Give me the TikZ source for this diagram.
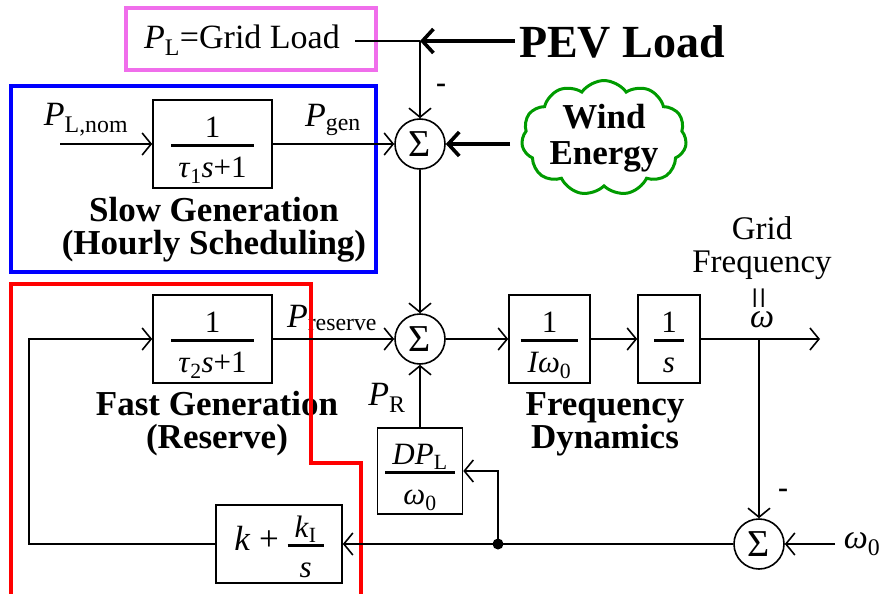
\documentclass[tikz,border=0pt]{standalone}
\usepackage{fontspec}
\setmainfont{Liberation Serif}
\usetikzlibrary{arrows.meta,shapes.symbols}
\definecolor{pinkbox}{RGB}{240,110,235}
\definecolor{cloudgreen}{RGB}{0,155,0}
\newcommand{\fr}[2]{{\renewcommand{\arraystretch}{0}\setlength{\arrayrulewidth}{2.4pt}\begin{tabular}{@{\hspace{7pt}}c@{\hspace{7pt}}}\raisebox{0pt}[30pt][7pt]{#1}\\\hline\raisebox{0pt}[31pt][3pt]{#2}\end{tabular}}}
\begin{document}
\begin{tikzpicture}[x=1pt,y=-1pt,
  every node/.style={font=\fontsize{34}{36}\selectfont},
  ln/.style={line width=1.6pt},
  arr/.style={line width=1.6pt,-{Straight Barb[length=9pt,width=22pt,line width=1.6pt]}},
  thickarr/.style={line width=3.6pt,-{Straight Barb[length=11pt,width=24pt,line width=3.6pt]}},
  blk/.style={draw,line width=1.6pt,inner sep=0pt,font=\fontsize{31}{33}\selectfont},
  sumnode/.style={draw,circle,line width=1.6pt,minimum size=50pt,inner sep=0pt,font=\fontsize{38}{38}\selectfont},
  title/.style={align=center,font=\fontsize{35}{33}\selectfont\bfseries},
  minus/.style={font=\fontsize{30}{30}\selectfont\bfseries}]
\useasboundingbox (0,0) rectangle (883,594);
% frames
\draw[pinkbox,line width=3.5pt] (126,8) rectangle (376,70);
\draw[blue,line width=3.5pt] (11,86) rectangle (376,272);
% blocks
\node[sumnode] (s1) at (420,144) {Σ};
\node[sumnode] (s2) at (420,339) {Σ};
\node[sumnode] (s3) at (759,544) {Σ};
\node[blk,minimum width=119pt,minimum height=88pt] (b1) at (212.5,144) {\fr{1}{\textit{τ}\textsubscript{1}\textit{s}+1}};
\node[blk,minimum width=119pt,minimum height=88pt] (b2) at (212.5,339) {\fr{1}{\textit{τ}\textsubscript{2}\textit{s}+1}};
\node[blk,minimum width=81pt,minimum height=88pt] (b3) at (549.5,339) {\fr{1}{\textit{Iω}\textsubscript{0}}};
\node[blk,minimum width=62pt,minimum height=88pt] (b4) at (669,339) {\fr{1}{\textit{s}}};
\node[blk,minimum width=85pt,minimum height=86pt] (bd) at (420,471) {\fr{\textit{DP}\textsubscript{L}}{\textit{ω}\textsubscript{0}}};
\node[blk,minimum width=126pt,minimum height=78pt] (bk) at (279,544) {\fontsize{35}{36}\selectfont\textit{k} + \fontsize{31}{33}\selectfont\fr{\textit{k}\textsubscript{I}}{\textit{s}}};
% labels
\node (pl) at (242,40) {\textit{P}\textsubscript{L}=Grid Load};
\node (pnom) at (86,120) {\textit{P}\textsubscript{L,nom}};
\node (pgen) at (333,120) {\textit{P}\textsubscript{gen}};
\node (pres) at (332,318) {\textit{P}\textsubscript{reserve}};
\node (pr) at (387,398) {\textit{P}\textsubscript{R}};
\node[title] (slow) at (214,230) {Slow Generation\\(Hourly Scheduling)};
\node[title] (fast) at (217,424) {Fast Generation\\(Reserve)};
\node[title] (fd) at (605,424) {Frequency\\Dynamics};
\node[font=\fontsize{33}{33}\selectfont,inner sep=0pt] (gr) at (762,228) {Grid};
\node[font=\fontsize{33}{33}\selectfont,inner sep=0pt] (gf) at (762,265) {Frequency};
\node[font=\fontsize{40}{40}\selectfont] (eq) at (763,298) {\rotatebox{90}{=}};
\node (om) at (762,320) {\textit{ω}};
\node (om0) at (862,544) {\textit{ω}\textsubscript{0}};
\node[font=\fontsize{46}{46}\selectfont\bfseries,inner sep=4pt] (pev) at (622,42) {PEV Load};
\node[cloud,draw=cloudgreen,line width=3pt,cloud puffs=11,cloud puff arc=110,aspect=1.6,inner sep=0pt,minimum width=165pt,minimum height=105pt,align=center,font=\fontsize{35}{36}\selectfont\bfseries] (wind) at (604,138) {Wind\\Energy};
\node[minus] (m1) at (441,88) {-};
\node[minus] (m2) at (783,493) {-};
% red frame
\draw[red,line width=3.5pt] (11,597) -- (11,284) -- (311,284) -- (311,463) -- (361,463) -- (361,597);
% connectors
\coordinate (jt) at (420,41);
\coordinate (plend) at (355,41);
\coordinate (nomstart) at (60,144);
\coordinate (wout) at (820,339);
\coordinate (wbr) at (759,339);
\coordinate (w0s) at (835,544);
\coordinate (jd) at (498,544);
\coordinate (lc) at (29,339);
\coordinate (ws) at (510,144);
\draw[ln] (plend) -- (jt);
\draw[thickarr] (pev.west |- jt) -- (jt);
\draw[arr] (jt) -- (s1.north);
\draw[thickarr] (ws) -- (s1.east);
\draw[arr] (nomstart) -- (b1.west);
\draw[arr] (b1.east) -- (s1.west);
\draw[arr] (s1.south) -- (s2.north);
\draw[arr] (b2.east) -- (s2.west);
\draw[arr] (bd.north) -- (s2.south);
\draw[arr] (s2.east) -- (b3.west);
\draw[arr] (b3.east) -- (b4.west);
\draw[arr] (b4.east) -- (wout);
\draw[arr] (wbr) -- (s3.north);
\draw[arr] (w0s) -- (s3.east);
\draw[arr] (s3.west) -- (bk.east);
\draw[arr] (jd) |- (bd.east);
\fill (jd) circle (5.5);
\draw[arr] (bk.west) -| (lc) -- (b2.west);
\end{tikzpicture}
\end{document}
